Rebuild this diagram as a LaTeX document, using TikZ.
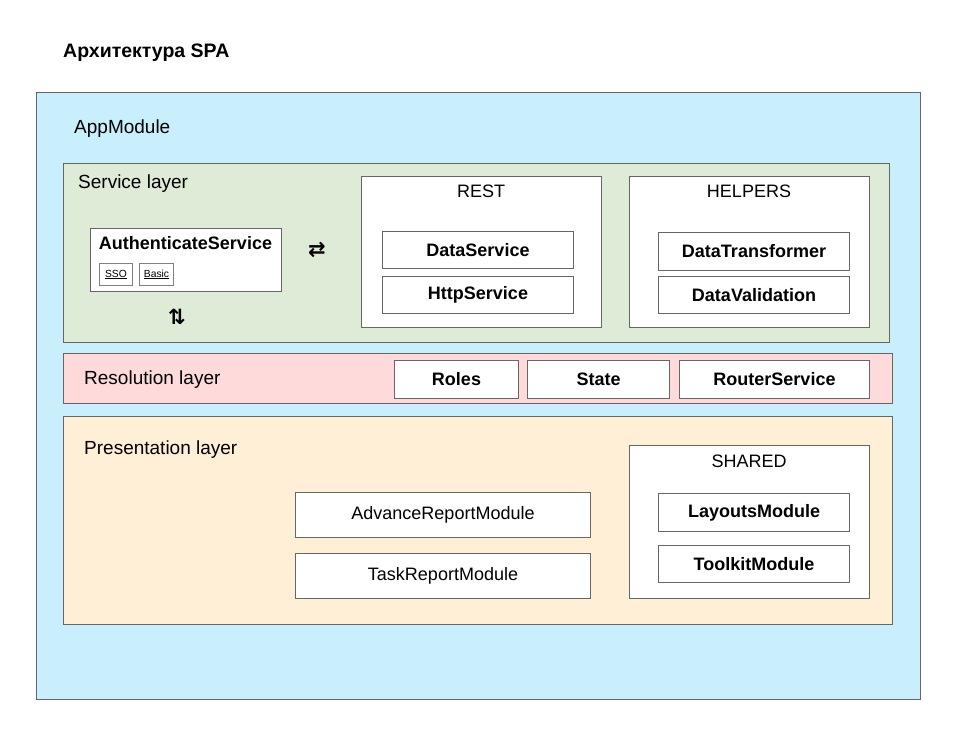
\documentclass[tikz,border=0pt]{standalone}
\usepackage{fontspec}
\setmainfont{Liberation Sans}
\newfontfamily\symfont{DejaVu Sans}
\definecolor{appblue}{HTML}{C9EEFC}
\definecolor{svcgreen}{HTML}{DEEBD6}
\definecolor{respink}{HTML}{FFDADA}
\definecolor{presorange}{HTML}{FFEFD7}
\definecolor{edgegray}{HTML}{666666}
\tikzset{
  box/.style={draw=edgegray, line width=1pt, fill=white, inner sep=0pt, anchor=north west},
  lbl/.style={anchor=base west, inner sep=0pt, font=\fontsize{19}{22}\selectfont},
  ttl/.style={anchor=base, inner sep=0pt, font=\fontsize{18}{22}\selectfont},
  bt/.style={font=\bfseries\fontsize{18}{22}\selectfont},
  rt/.style={font=\fontsize{18}{22}\selectfont},
  small/.style={box, draw=gray, font=\fontsize{10.3}{12}\selectfont},
  sym/.style={inner sep=0pt, font=\symfont\bfseries\fontsize{21}{24}\selectfont}
}
\begin{document}
\begin{tikzpicture}[x=1pt,y=-1pt]
\useasboundingbox (0,0) rectangle (968,737);
\node[anchor=base west, inner sep=0pt, font=\bfseries\fontsize{19.5}{22}\selectfont] (title) at (63,57) {Архитектура SPA};
% AppModule
\node[box, fill=appblue, minimum width=884, minimum height=607] (app) at (36,92) {};
\node[lbl] (appt) at (74,133) {AppModule};
% Service layer
\node[box, fill=svcgreen, minimum width=826, minimum height=179] (svc) at (63,163) {};
\node[lbl] (svct) at (78,188) {Service layer};
\node[box, minimum width=191, minimum height=63] (auth) at (90,228) {};
\node[ttl, bt] (autht) at (185.5,249) {AuthenticateService};
\node[small, minimum width=33, minimum height=22] (sso) at (99,263) {\underline{SSO}};
\node[small, minimum width=34, minimum height=22] (basic) at (139,263) {\underline{Basic}};
\node[sym] (harr) at (317,250) {⇄};
\node[sym] (varr) at (177,317) {⇅};
\node[box, minimum width=240, minimum height=151] (rest) at (361,176) {};
\node[ttl] (restt) at (481,197) {REST};
\node[box, bt, minimum width=191, minimum height=37] (ds) at (382,231) {DataService};
\node[box, bt, minimum width=191, minimum height=37] (hs) at (382,276) {HttpService};
\node[box, minimum width=240, minimum height=151] (help) at (629,176) {};
\node[ttl] (helpt) at (749,197) {HELPERS};
\node[box, bt, minimum width=191, minimum height=38] (dt) at (658,232) {DataTransformer};
\node[box, bt, minimum width=191, minimum height=37] (dv) at (658,276) {DataValidation};
% Resolution layer
\node[box, fill=respink, minimum width=829, minimum height=50] (res) at (63,353) {};
\node[lbl] (rest2) at (84,384) {Resolution layer};
\node[box, bt, minimum width=124, minimum height=38] (roles) at (394,360) {Roles};
\node[box, bt, minimum width=142, minimum height=38] (state) at (527,360) {State};
\node[box, bt, minimum width=190, minimum height=38] (router) at (679,360) {RouterService};
% Presentation layer
\node[box, fill=presorange, minimum width=829, minimum height=208] (pres) at (63,416) {};
\node[lbl] (prest) at (84,454) {Presentation layer};
\node[box, rt, minimum width=295, minimum height=45] (adv) at (295,492) {AdvanceReportModule};
\node[box, rt, minimum width=295, minimum height=45] (task) at (295,553) {TaskReportModule};
\node[box, minimum width=240, minimum height=153] (shared) at (629,445) {};
\node[ttl] (sharedt) at (749,467) {SHARED};
\node[box, bt, minimum width=191, minimum height=38] (lay) at (658,493) {LayoutsModule};
\node[box, bt, minimum width=191, minimum height=37] (tool) at (658,545) {ToolkitModule};
\end{tikzpicture}
\end{document}
